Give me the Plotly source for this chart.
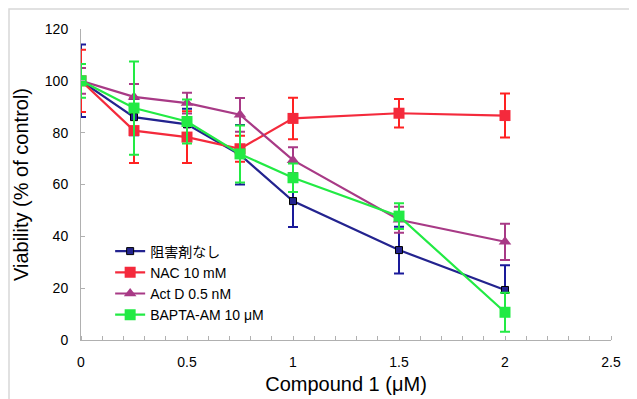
import plotly.graph_objects as go

x_vals = [0, 0.25, 0.5, 0.75, 1, 1.5, 2]

names = ["阻害剤なし", "NAC 10 mM", "Act D 0.5 nM", "BAPTA-AM 10 μM"]

none_y = [100, 86, 83.2, 71.5, 53.6, 34.7, 19.3]
none_err = [14, 7, 6, 11.5, 10, 9, 9.5]

nac_y = [100, 80.8, 78.3, 73.8, 85.5, 87.5, 86.6]
nac_err = [12, 12.5, 10, 5, 8, 5.5, 8.5]

actd_y = [100, 93.8, 91.4, 86.9, 69.4, 46.4, 37.9]
actd_err = [5, 5, 4, 6.5, 5, 5, 7]

bapta_y = [100, 89.5, 84.3, 71.8, 62.6, 47.8, 10.7]
bapta_err = [6.5, 18, 8.5, 11, 5.5, 5, 7.5]

x_ticks = [0, 0.5, 1, 1.5, 2, 2.5]
y_ticks = [0, 20, 40, 60, 80, 100, 120]

FONT = "Liberation Sans, Arial, Noto Sans CJK JP, sans-serif"

series = [
    (names[0], none_y, none_err, "#23238f", "#1a1a9a", "square", 7, "#000000", 1),
    (names[1], nac_y, nac_err, "#f42a3c", "#ff2222", "square", 11, "#f42a3c", 0),
    (names[2], actd_y, actd_err, "#a83a86", "#a83a86", "triangle-up", 11, "#a83a86", 0),
    (names[3], bapta_y, bapta_err, "#22ea44", "#22ea44", "square", 11, "#22ea44", 0),
]

fig = go.Figure()
for name, yv, err, col, ecol, sym, size, lcol, lw in series:
    fig.add_trace(go.Scatter(
        x=x_vals, y=yv, name=name, mode="lines+markers",
        line=dict(color=col, width=2.2),
        marker=dict(symbol=sym, size=size, color=col, line=dict(color=lcol, width=lw)),
        error_y=dict(type="data", array=err, visible=True, color=ecol, thickness=2, width=5),
    ))

# page body has an 8px margin; compensate so the plot area lands at x 81-611, y 29-340
L, T, PW, PH = 73, 21, 530, 311
fig.update_layout(
    width=637, height=399,
    margin=dict(l=L, r=637 - L - PW, t=T, b=399 - T - PH),
    paper_bgcolor="white", plot_bgcolor="white",
    font=dict(family=FONT, color="#000000"),
    showlegend=True,
    legend=dict(x=0.055, y=0.336, xanchor="left", yanchor="top",
                font=dict(size=14, family=FONT), bgcolor="rgba(0,0,0,0)",
                tracegroupgap=0),
    xaxis=dict(range=[0, 2.5], tickvals=x_ticks, ticktext=[str(v) for v in x_ticks],
               showgrid=False, zeroline=False, showline=True, linecolor="#b0b0b0", linewidth=1,
               ticks="", tickfont=dict(size=14), ticklabelstandoff=9,
               minor=dict(dtick=0.1, ticks="inside", ticklen=4, tickcolor="#b0b0b0"),
               title=dict(text="Compound 1 (μM)", font=dict(size=20), standoff=8)),
    yaxis=dict(range=[0, 120], tickvals=y_ticks, ticktext=[str(v) for v in y_ticks],
               showgrid=False, zeroline=False, showline=True, linecolor="#b0b0b0", linewidth=1,
               ticks="inside", ticklen=4, tickcolor="#b0b0b0", tickfont=dict(size=14),
               ticklabelstandoff=9,
               title=dict(text="Viability (% of control)", font=dict(size=20), standoff=10)),
    shapes=[dict(type="rect", xref="paper", yref="paper",
                 x0=-(L - 1) / PW, x1=(637 - L + 5) / PW, y0=-90 / PH, y1=(PH + T - 1) / PH,
                 line=dict(color="#d8d8d8", width=1.5), fillcolor="rgba(0,0,0,0)", layer="below")],
)

fig.write_html("out.html")
